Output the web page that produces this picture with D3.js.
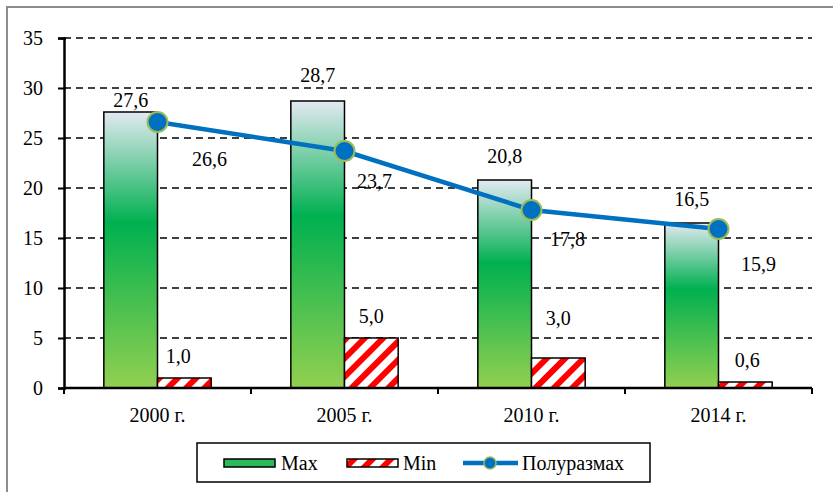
<!DOCTYPE html>
<html><head><meta charset="utf-8">
<script src="https://cdn.jsdelivr.net/npm/d3@7"></script>
<style>body{margin:0;background:#fff}</style>
</head><body><svg id="c" width="833" height="492" style="font-family:Liberation Serif;font-size:20px"></svg>
<script>
const categories = ["2000 г.","2005 г.","2010 г.","2014 г."];
const maxValues = [27.6, 28.7, 20.8, 16.5];
const minValues = [1.0, 5.0, 3.0, 0.6];
const halfRange = [26.6, 23.7, 17.8, 15.9];
const yTicks = [0,5,10,15,20,25,30,35];
const seriesNames = ["Max","Min","Полуразмах"];
// label nudges (px) to mimic the reference placement
const maxLabelDy = [-12, -26, -24, -24];
const minLabelDx = [-6, 0, 0, 2];
const minLabelDy = [-22, -22, -40, -22];
const lineLabelDx = [52, 30, 36, 40];
const lineLabelDy = [37, 30, 29, 35];

const FONT = "Liberation Serif";
const FS = 20;
const svg = d3.select("#c");
const fmt = v => d3.format(".1f")(v).replace(".", ",");
const defs = svg.append("defs");
const g1 = defs.append("linearGradient").attr("id","gMax").attr("x1",0).attr("y1",0).attr("x2",0).attr("y2",1);
g1.append("stop").attr("offset","0%").attr("stop-color","#e2e9f2");
g1.append("stop").attr("offset","40%").attr("stop-color","#00b050");
g1.append("stop").attr("offset","100%").attr("stop-color","#92d050");
const pat = defs.append("pattern").attr("id","pMin").attr("patternUnits","userSpaceOnUse")
  .attr("width",13).attr("height",13).attr("patternTransform","rotate(45)");
pat.append("rect").attr("width",13).attr("height",13).attr("fill","#fff");
pat.append("rect").attr("width",6).attr("height",13).attr("fill","#ff0000");

function txt(sel){
  return sel.attr("font-family",FONT).attr("font-size",FS).attr("fill","#000")
    .attr("style","font-family:Liberation Serif;font-size:20px");
}

// outer border
svg.append("rect").attr("x",7).attr("y",7).attr("width",840).attr("height",500)
  .attr("fill","none").attr("stroke","#8c8c8c").attr("stroke-width",2);

const x = d3.scaleBand().domain(categories).range([64,812]).paddingInner(0).paddingOuter(0);
const y = d3.scaleLinear().domain([0,35]).range([388,38]);
const bw = x.bandwidth()*0.287;
const cx = c => x(c)+x.bandwidth()/2;

// gridlines
svg.append("g").selectAll("line").data(yTicks.filter(t=>t>0)).join("line")
  .attr("x1",64).attr("x2",812).attr("y1",d=>y(d)).attr("y2",d=>y(d))
  .attr("stroke","#000").attr("stroke-width",1.5).attr("stroke-dasharray","7,5");

// bars
svg.append("g").selectAll("rect").data(categories).join("rect")
  .attr("x",c=>cx(c)-bw).attr("width",bw)
  .attr("y",(c,i)=>y(maxValues[i])).attr("height",(c,i)=>y(0)-y(maxValues[i]))
  .attr("fill","url(#gMax)").attr("stroke","#000").attr("stroke-width",1.5);
svg.append("g").selectAll("rect").data(categories).join("rect")
  .attr("x",c=>cx(c)).attr("width",bw)
  .attr("y",(c,i)=>y(minValues[i])).attr("height",(c,i)=>y(0)-y(minValues[i]))
  .attr("fill","url(#pMin)").attr("stroke","#000").attr("stroke-width",1.5);

// axes
const yAxis = d3.axisLeft(y).tickValues(yTicks).tickSize(6).tickFormat(d=>d);
const ya = svg.append("g").attr("transform","translate(64,0)").call(yAxis);
ya.attr("font-family",null).attr("font-size",null);
ya.select(".domain").attr("stroke","#000").attr("stroke-width",2.5);
ya.selectAll(".tick line").attr("stroke","#000").attr("stroke-width",2).attr("x2",-6).attr("x1",2);
ya.selectAll(".tick text").attr("x",-21).call(txt);

const xa = svg.append("g").attr("transform","translate(0,388)");
xa.append("line").attr("x1",64).attr("x2",812).attr("stroke","#000").attr("stroke-width",2.5);
const bounds = categories.map(c=>x(c)).concat([x.range()[1]]);
xa.selectAll("line.t").data(bounds).join("line").attr("class","t")
  .attr("x1",d=>d).attr("x2",d=>d).attr("y1",0).attr("y2",6).attr("stroke","#000").attr("stroke-width",2);
xa.selectAll("text").data(categories).join("text").attr("x",c=>cx(c)).attr("y",34)
  .attr("text-anchor","middle").call(txt).text(c=>c);

// line
const line = d3.line().x((d,i)=>cx(categories[i])).y(d=>y(d));
svg.append("path").datum(halfRange).attr("d",line).attr("fill","none")
  .attr("stroke","#0070c0").attr("stroke-width",4.5);
svg.append("g").selectAll("circle").data(halfRange).join("circle")
  .attr("cx",(d,i)=>cx(categories[i])).attr("cy",d=>y(d)).attr("r",10)
  .attr("fill","#0070c0").attr("stroke","#9bbb59").attr("stroke-width",2);

// labels
const lab = svg.append("g");
lab.selectAll("text.mx").data(maxValues).join("text").attr("class","mx")
  .attr("x",(d,i)=>cx(categories[i])-bw/2).attr("y",(d,i)=>y(d)+maxLabelDy[i]+7)
  .attr("text-anchor","middle").call(txt).text(fmt);
lab.selectAll("text.mn").data(minValues).join("text").attr("class","mn")
  .attr("x",(d,i)=>cx(categories[i])+bw/2+minLabelDx[i]).attr("y",(d,i)=>y(d)+minLabelDy[i]+7)
  .attr("text-anchor","middle").call(txt).text(fmt);
lab.selectAll("text.ln").data(halfRange).join("text").attr("class","ln")
  .attr("x",(d,i)=>cx(categories[i])+lineLabelDx[i]).attr("y",(d,i)=>y(d)+lineLabelDy[i]+7)
  .attr("text-anchor","middle").call(txt).text(fmt);

// legend
const lg = svg.append("g");
lg.append("rect").attr("x",197).attr("y",443).attr("width",453).attr("height",39)
  .attr("fill","#fff").attr("stroke","#000").attr("stroke-width",1.5);
lg.append("rect").attr("x",224).attr("y",459).attr("width",51).attr("height",8)
  .attr("fill","#2eb85c").attr("stroke","#000").attr("stroke-width",1.5);
lg.append("rect").attr("x",347).attr("y",459).attr("width",51).attr("height",8)
  .attr("fill","url(#pMin)").attr("stroke","#000").attr("stroke-width",1.5);
lg.append("line").attr("x1",463).attr("x2",518).attr("y1",463).attr("y2",463)
  .attr("stroke","#0070c0").attr("stroke-width",4.5);
lg.append("circle").attr("cx",490).attr("cy",463).attr("r",6).attr("fill","#0070c0").attr("stroke","#9bbb59").attr("stroke-width",1.5);
const lx = [281, 403, 522];
lg.selectAll("text").data(seriesNames).join("text").attr("x",(d,i)=>lx[i]).attr("y",470)
  .call(txt).text(d=>d);
</script></body></html>
